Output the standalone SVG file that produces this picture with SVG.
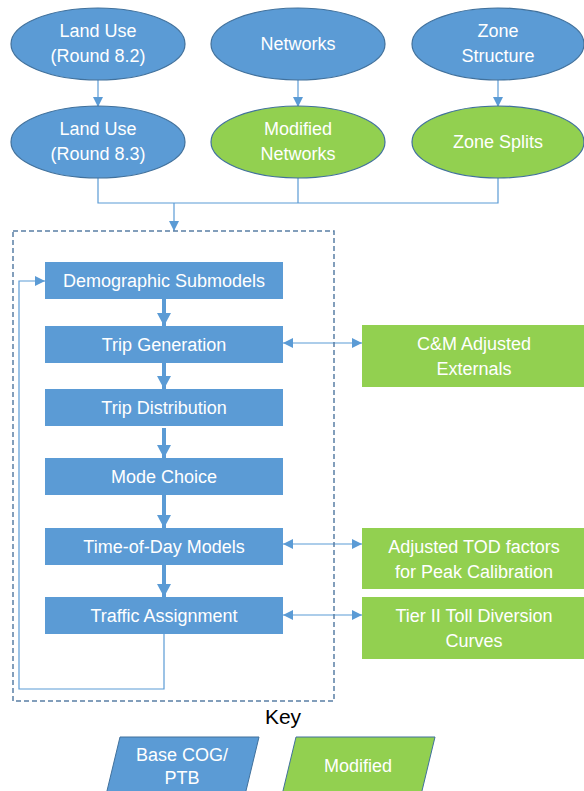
<svg xmlns="http://www.w3.org/2000/svg" width="584" height="791" viewBox="0 0 584 791">
<style>
.blue{fill:#5B9BD5}
.green{fill:#92D050}
.eo{stroke:#41719C;stroke-width:1.2}
.t{font-family:"Liberation Sans",Arial,sans-serif;font-size:18px;fill:#fff;text-anchor:middle}
.thin{fill:none;stroke:#5B9BD5;stroke-width:1.2}
.thick{fill:none;stroke:#5B9BD5;stroke-width:4}
</style>
<defs>
<marker id="ah" markerUnits="userSpaceOnUse" markerWidth="12" markerHeight="12" refX="10" refY="5" orient="auto">
<path d="M0,0 L10,5 L0,10 Z" fill="#5B9BD5"/>
</marker>
<marker id="ahs" markerUnits="userSpaceOnUse" markerWidth="12" markerHeight="12" refX="10" refY="5" orient="auto-start-reverse">
<path d="M0,0 L10,5 L0,10 Z" fill="#5B9BD5"/>
</marker>
<marker id="big" markerUnits="userSpaceOnUse" markerWidth="16" markerHeight="16" refX="13" refY="7" orient="auto">
<path d="M0,0 L13,7 L0,14 Z" fill="#5B9BD5"/>
</marker>
</defs>

<g id="connectors">
<line class="thin" x1="98" y1="80" x2="98" y2="107" marker-end="url(#ah)"/>
<line class="thin" x1="298" y1="80" x2="298" y2="107" marker-end="url(#ah)"/>
<line class="thin" x1="498" y1="80" x2="498" y2="107" marker-end="url(#ah)"/>
<path class="thin" d="M98 178 V203 H498 V178 M298 178 V203"/>
<line class="thin" x1="174" y1="203" x2="174" y2="231" marker-end="url(#ah)"/>
<line class="thick" x1="164" y1="299" x2="164" y2="326" marker-end="url(#big)"/>
<line class="thick" x1="164" y1="363" x2="164" y2="389" marker-end="url(#big)"/>
<line class="thick" x1="164" y1="428" x2="164" y2="458" marker-end="url(#big)"/>
<line class="thick" x1="164" y1="495" x2="164" y2="528" marker-end="url(#big)"/>
<line class="thick" x1="164" y1="565" x2="164" y2="597" marker-end="url(#big)"/>
<path class="thin" d="M164 634 V689 H19 V281 H45" marker-end="url(#ah)"/>
<line class="thin" x1="283" y1="343" x2="362" y2="343" marker-start="url(#ahs)" marker-end="url(#ah)"/>
<line class="thin" x1="283" y1="544" x2="362" y2="544" marker-start="url(#ahs)" marker-end="url(#ah)"/>
<line class="thin" x1="283" y1="615" x2="362" y2="615" marker-start="url(#ahs)" marker-end="url(#ah)"/>
</g>

<g id="model-box">
<rect x="13" y="231" width="321" height="470" fill="none" stroke="#5A7FA5" stroke-width="1.5" stroke-dasharray="5,3"/>
</g>

<g id="landuse82"><ellipse class="blue eo" cx="98" cy="44" rx="87" ry="36"/><text class="t" x="98" y="37">Land Use</text><text class="t" x="98" y="62">(Round 8.2)</text></g>
<g id="networks"><ellipse class="blue eo" cx="298" cy="44" rx="87" ry="36"/><text class="t" x="298" y="50">Networks</text></g>
<g id="zonestructure"><ellipse class="blue eo" cx="498" cy="44" rx="86" ry="36"/><text class="t" x="498" y="37">Zone</text><text class="t" x="498" y="62">Structure</text></g>

<g id="landuse83"><ellipse class="blue eo" cx="98" cy="142" rx="87" ry="36"/><text class="t" x="98" y="135">Land Use</text><text class="t" x="98" y="160">(Round 8.3)</text></g>
<g id="modnetworks"><ellipse class="green eo" cx="298" cy="142" rx="87" ry="36"/><text class="t" x="298" y="135">Modified</text><text class="t" x="298" y="160">Networks</text></g>
<g id="zonesplits"><ellipse class="green eo" cx="498" cy="142" rx="86" ry="36"/><text class="t" x="498" y="148">Zone Splits</text></g>

<g id="demographic"><rect class="blue" x="45" y="262" width="238" height="37"/><text class="t" x="164" y="287">Demographic Submodels</text></g>
<g id="tripgen"><rect class="blue" x="45" y="326" width="238" height="37"/><text class="t" x="164" y="351">Trip Generation</text></g>
<g id="tripdist"><rect class="blue" x="45" y="389" width="238" height="37"/><text class="t" x="164" y="414">Trip Distribution</text></g>
<g id="modechoice"><rect class="blue" x="45" y="458" width="238" height="37"/><text class="t" x="164" y="483">Mode Choice</text></g>
<g id="tod"><rect class="blue" x="45" y="528" width="238" height="37"/><text class="t" x="164" y="553">Time-of-Day Models</text></g>
<g id="assignment"><rect class="blue" x="45" y="597" width="238" height="37"/><text class="t" x="164" y="622">Traffic Assignment</text></g>

<g id="cm-externals"><rect class="green" x="362" y="325" width="222" height="62"/><text class="t" x="474" y="350">C&amp;M Adjusted</text><text class="t" x="474" y="375">Externals</text></g>
<g id="tod-factors"><rect class="green" x="362" y="528" width="222" height="61"/><text class="t" x="474" y="553">Adjusted TOD factors</text><text class="t" x="474" y="578">for Peak Calibration</text></g>
<g id="toll-curves"><rect class="green" x="362" y="597" width="222" height="62"/><text class="t" x="474" y="622">Tier II Toll Diversion</text><text class="t" x="474" y="647">Curves</text></g>

<g id="key">
<text x="283" y="724" font-family="Liberation Sans,Arial,sans-serif" font-size="21" fill="#000" text-anchor="middle">Key</text>
<g id="key-base"><polygon class="blue" points="120,737 259,737 245,795 106,795" stroke="#41719C" stroke-width="1"/><text class="t" x="182" y="761">Base COG/</text><text class="t" x="182" y="784">PTB</text></g>
<g id="key-modified"><polygon class="green" points="296,737 435,737 421,795 282,795" stroke="#41719C" stroke-width="1"/><text class="t" x="358" y="772">Modified</text></g>
</g>
</svg>
